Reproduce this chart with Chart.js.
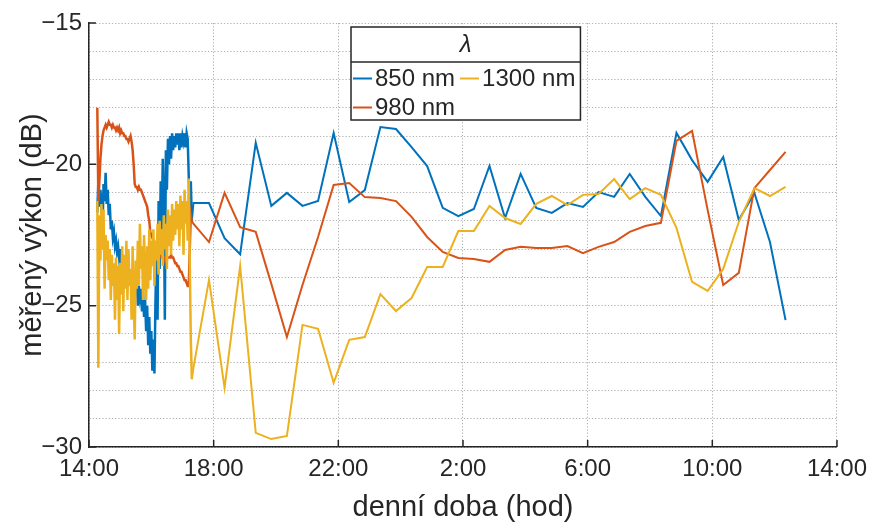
<!DOCTYPE html>
<html>
<head>
<meta charset="utf-8">
<script src="https://cdn.jsdelivr.net/npm/chart.js@4.4.1/dist/chart.umd.min.js"></script>
<style>
  html, body { margin: 0; padding: 0; background: #fff; }
</style>
</head>
<body>
<canvas id="vykonChart" width="875" height="527"></canvas>
<script>
// Čas v minutách od 14:00 - hustý záznam na začátku měření (každé 2 min)
const scanMinutes = [
  16, 18, 20, 22, 24, 26, 28, 30, 32, 34,
  36, 38, 40, 42, 44, 46, 48, 50, 52, 54,
  56, 58, 60, 62, 64, 66, 68, 70, 72, 74,
  76, 78, 80, 82, 84, 86, 88, 90, 92, 94,
  96, 98, 100, 102, 104, 106, 108, 110, 112, 114,
  116, 118, 120, 122, 124, 126, 128, 130, 132, 134,
  136, 138, 140, 142, 144, 146, 148, 150, 152, 154,
  156, 158, 160, 162, 164, 166, 168, 170, 172, 174,
  176, 178, 180, 182, 184, 186, 188, 190, 192, 194,
  196, 198
];

// Dále už jen jedno měření každých 30 min
const sweepMinutes = [
  201, 231, 261, 291, 321, 351, 381, 411, 441, 471,
  501, 531, 561, 591, 621, 651, 681, 711, 741, 771,
  801, 831, 861, 891, 921, 951, 981, 1011, 1041, 1071,
  1101, 1131, 1161, 1191, 1221, 1251, 1281, 1311, 1341
];

// Naměřený výkon (dB) - hustý úsek
const scan850 = [
  -21.7, -20.6, -21.5, -20.9, -21.4, -22.3, -20.7, -21.3, -20.3, -21.4,
  -20.9, -21.8, -21.4, -22.3, -22.0, -22.6, -22.4, -22.9, -22.7, -23.1,
  -22.9, -23.3, -23.0, -23.5, -23.2, -23.7, -23.3, -23.8, -23.5, -24.1,
  -23.7, -24.3, -23.8, -24.4, -24.0, -24.8, -24.2, -24.6, -24.1, -25.0,
  -24.3, -24.7, -24.4, -25.2, -24.5, -25.4, -24.8, -25.9, -25.0, -26.4,
  -25.4, -26.7, -25.9, -27.3, -26.2, -27.4, -24.8, -23.0, -25.5, -21.3,
  -23.7, -20.6, -22.3, -19.8, -21.3, -25.5, -19.5, -20.9, -19.1, -20.0,
  -19.0, -19.8, -18.9, -19.5, -19.0, -19.4, -18.9, -19.3, -18.9, -19.5,
  -18.9, -19.4, -19.0, -19.2, -18.9, -19.4, -18.9, -19.1, -20.4, -21.8,
  -20.6, -22.0
];
const scan980 = [
  -18.0, -21.3, -20.6, -19.8, -19.3, -19.0, -18.8, -18.7, -18.6, -18.7,
  -18.6, -18.5, -18.6, -18.6, -18.7, -18.6, -18.7, -18.7, -18.8, -18.7,
  -18.8, -18.7, -18.9, -18.8, -18.9, -18.9, -19.0, -19.0, -19.1, -19.1,
  -19.2, -19.1, -19.0, -19.2, -19.5, -20.0, -20.7, -20.8, -20.8, -20.9,
  -20.8, -20.9, -20.9, -21.0, -21.1, -21.2, -21.3, -21.4, -21.5, -21.8,
  -22.0, -22.4, -22.5, -22.6, -22.7, -22.8, -22.9, -22.9, -23.0, -23.1,
  -23.2, -23.2, -23.3, -23.3, -23.3, -23.4, -23.3, -23.3, -23.3, -23.3,
  -23.3, -23.2, -23.3, -23.3, -23.4, -23.5, -23.5, -23.6, -23.6, -23.7,
  -23.8, -23.8, -23.9, -24.0, -24.1, -24.1, -24.2, -24.3, -24.3, -23.0,
  -21.8, -22.0
];
const scan1300 = [
  -21.3, -27.2, -21.8, -23.4, -21.4, -23.0, -21.6, -24.4, -22.5, -23.4,
  -22.7, -24.1, -23.0, -24.8, -23.2, -24.3, -23.5, -25.5, -23.3, -24.8,
  -23.6, -26.0, -23.5, -24.6, -22.9, -25.2, -23.2, -24.4, -22.7, -24.8,
  -23.0, -24.3, -23.7, -25.5, -22.9, -24.8, -26.2, -23.4, -24.4, -22.7,
  -24.3, -22.1, -23.7, -22.9, -24.8, -22.5, -23.9, -24.8, -22.9, -24.4,
  -22.3, -24.1, -22.7, -23.6, -22.3, -24.3, -22.7, -23.4, -22.1, -23.9,
  -22.0, -23.2, -22.3, -23.6, -21.8, -23.0, -22.1, -23.7, -21.6, -22.9,
  -21.8, -23.2, -21.4, -22.7, -21.6, -22.5, -21.3, -22.3, -21.4, -22.9,
  -21.1, -22.3, -21.3, -23.2, -20.9, -22.1, -21.3, -22.7, -20.5, -23.4,
  -26.2, -27.6
];

// Naměřený výkon (dB) - půlhodinová měření
const sweep850 = [
  -21.37, -21.37, -22.61, -23.18, -19.24, -21.47, -21.01, -21.47, -21.30, -18.89,
  -21.33, -20.91, -18.68, -18.75, -19.39, -20.06, -21.54, -21.83, -21.58, -20.06,
  -21.90, -20.34, -21.54, -21.72, -21.37, -21.51, -20.98, -21.15, -20.34, -21.15,
  -21.83, -18.89, -19.85, -20.62, -19.74, -21.97, -21.01, -22.75, -25.51
];
const sweep980 = [
  -22.10, -22.75, -21.01, -22.22, -22.39, -24.23, -26.11, -24.27, -22.57, -20.73,
  -20.66, -21.16, -21.19, -21.30, -21.86, -22.57, -23.10, -23.31, -23.35, -23.45,
  -23.03, -22.92, -22.96, -22.96, -22.89, -23.14, -22.92, -22.75, -22.39, -22.18,
  -22.07, -19.17, -18.82, -21.61, -24.27, -23.84, -20.84, -20.20, -19.56
];
const sweep1300 = [
  -27.20, -24.09, -27.91, -23.60, -29.50, -29.72, -29.61, -25.68, -25.82, -27.73,
  -26.21, -26.11, -24.59, -25.19, -24.73, -23.63, -23.63, -22.36, -22.36, -21.47,
  -21.90, -22.11, -21.40, -21.12, -21.44, -21.08, -21.05, -20.52, -21.23, -20.84,
  -21.08, -22.25, -24.16, -24.48, -23.70, -22.04, -20.84, -21.12, -20.80
];

const vlnoveDelky = ['850 nm', '980 nm', '1300 nm'];
const barvy = ['#0072BD', '#D95319', '#EDB120'];

const FONT = "'Liberation Sans', Arial, sans-serif";
const TEXT_COLOR = '#262626';
const GRID_COLOR = '#adadad';

// spojí oba úseky do bodů {x, y}
function makePoints(scanVals, sweepVals) {
  const pts = [];
  scanMinutes.forEach((m, i) => pts.push({ x: m, y: scanVals[i] }));
  sweepMinutes.forEach((m, i) => pts.push({ x: m, y: sweepVals[i] }));
  return pts;
}

// minuty od 14:00 -> "HH:00"
function formatHour(v) {
  const h = (14 + v / 60) % 24;
  return h + ':00';
}

// krátké čárky dovnitř grafu (jako v Matlabu)
const innerTicks = {
  id: 'innerTicks',
  afterDatasetsDraw(chart) {
    const { ctx, chartArea, scales } = chart;
    ctx.save();
    ctx.strokeStyle = TEXT_COLOR;
    ctx.lineWidth = 1.5;
    ctx.beginPath();
    for (let m = 0; m <= 1440; m += 240) {
      const x = scales.x.getPixelForValue(m);
      ctx.moveTo(x, chartArea.bottom);
      ctx.lineTo(x, chartArea.bottom - 7);
    }
    for (let v = -30; v <= -15; v += 5) {
      const y = scales.y.getPixelForValue(v);
      ctx.moveTo(chartArea.left, y);
      ctx.lineTo(chartArea.left + 7, y);
    }
    ctx.stroke();
    ctx.restore();
  }
};

// legenda s nadpisem lambda, dva sloupce
const lambdaLegend = {
  id: 'lambdaLegend',
  afterDraw(chart) {
    const { ctx, chartArea } = chart;
    const sets = chart.data.datasets;
    const left = chartArea.left + 262;
    const top = 27;
    const headH = 35;
    const rowH = 29;
    const lineLen = 19;
    ctx.save();
    ctx.font = '24px ' + FONT;
    const colW = [];
    sets.forEach((ds, i) => {
      const c = Math.floor(i / 2);
      const w = ctx.measureText(ds.label).width;
      colW[c] = Math.max(colW[c] || 0, w);
    });
    const boxW = 2 + colW.reduce((s, w) => s + lineLen + 3 + w + 5, 0);
    const boxH = headH + rowH * 2;

    ctx.fillStyle = '#fff';
    ctx.fillRect(left, top, boxW, boxH);
    ctx.strokeStyle = TEXT_COLOR;
    ctx.lineWidth = 1.5;
    ctx.strokeRect(left, top, boxW, boxH);
    ctx.beginPath();
    ctx.moveTo(left, top + headH);
    ctx.lineTo(left + boxW, top + headH);
    ctx.stroke();

    ctx.fillStyle = TEXT_COLOR;
    ctx.textAlign = 'center';
    ctx.textBaseline = 'middle';
    ctx.font = 'italic 24px ' + FONT;
    ctx.fillText('\u03BB', left + boxW / 2, top + headH / 2 + 1);

    ctx.font = '24px ' + FONT;
    ctx.textAlign = 'left';
    sets.forEach((ds, i) => {
      const c = Math.floor(i / 2);
      const r = i % 2;
      let x = left + 2;
      for (let k = 0; k < c; k++) x += lineLen + 3 + colW[k] + 5;
      const y = top + headH + rowH * r + rowH / 2 + 2;
      ctx.strokeStyle = ds.borderColor;
      ctx.lineWidth = 2;
      ctx.beginPath();
      ctx.moveTo(x, y);
      ctx.lineTo(x + lineLen, y);
      ctx.stroke();
      ctx.fillStyle = TEXT_COLOR;
      ctx.fillText(ds.label, x + lineLen + 3, y + 1);
    });
    ctx.restore();
  }
};

const scan = [scan850, scan980, scan1300];
const sweep = [sweep850, sweep980, sweep1300];
const scanEnd = scanMinutes[scanMinutes.length - 1];

const datasets = vlnoveDelky.map((label, i) => ({
  label: label,
  data: makePoints(scan[i], sweep[i]),
  borderColor: barvy[i],
  backgroundColor: barvy[i],
  borderWidth: 2,
  pointRadius: 0,
  tension: 0,
  fill: false,
  // hustý úsek kreslit o něco silněji
  segment: {
    borderWidth: (c) => (c.p1.parsed.x <= scanEnd ? 2.5 : 2)
  },
  // žlutá nahoře, modrá vespod
  order: 2 - i
}));

const ctx = document.getElementById('vykonChart').getContext('2d');
new Chart(ctx, {
  type: 'line',
  data: { datasets: datasets },
  plugins: [innerTicks, lambdaLegend],
  options: {
    responsive: false,
    animation: false,
    devicePixelRatio: 1,
    layout: { padding: { top: 23, right: 38, bottom: 0, left: 0 } },
    plugins: {
      legend: { display: false },
      tooltip: { enabled: false }
    },
    scales: {
      x: {
        type: 'linear',
        min: 0,
        max: 1440,
        afterFit: (scale) => { scale.height = 80; },
        ticks: {
          stepSize: 240,
          autoSkip: false,
          maxRotation: 0,
          padding: 8,
          color: TEXT_COLOR,
          font: { family: FONT, size: 24 },
          callback: (v) => formatHour(v)
        },
        grid: {
          color: GRID_COLOR,
          lineWidth: 1,
          drawTicks: false,
          tickLength: 0
        },
        border: { display: true, color: TEXT_COLOR, width: 1.5, dash: [1.2, 2] },
        title: {
          display: true,
          text: 'denní doba (hod)',
          color: TEXT_COLOR,
          font: { family: FONT, size: 29 },
          padding: { top: 0, bottom: 2 }
        }
      },
      y: {
        min: -30,
        max: -15,
        afterFit: (scale) => { scale.width = 89; },
        ticks: {
          stepSize: 1,
          autoSkip: false,
          padding: 7,
          color: TEXT_COLOR,
          font: { family: FONT, size: 24 },
          callback: (v) => (v % 5 === 0 ? '\u2212' + Math.abs(v) : '')
        },
        grid: {
          color: GRID_COLOR,
          lineWidth: 1,
          drawTicks: false,
          tickLength: 0
        },
        border: { display: true, color: TEXT_COLOR, width: 1.5, dash: [1.2, 2] },
        title: {
          display: true,
          text: 'měřený výkon (dB)',
          color: TEXT_COLOR,
          font: { family: FONT, size: 29 },
          padding: { top: 16, bottom: 0 }
        }
      }
    }
  }
});
</script>
</body>
</html>
